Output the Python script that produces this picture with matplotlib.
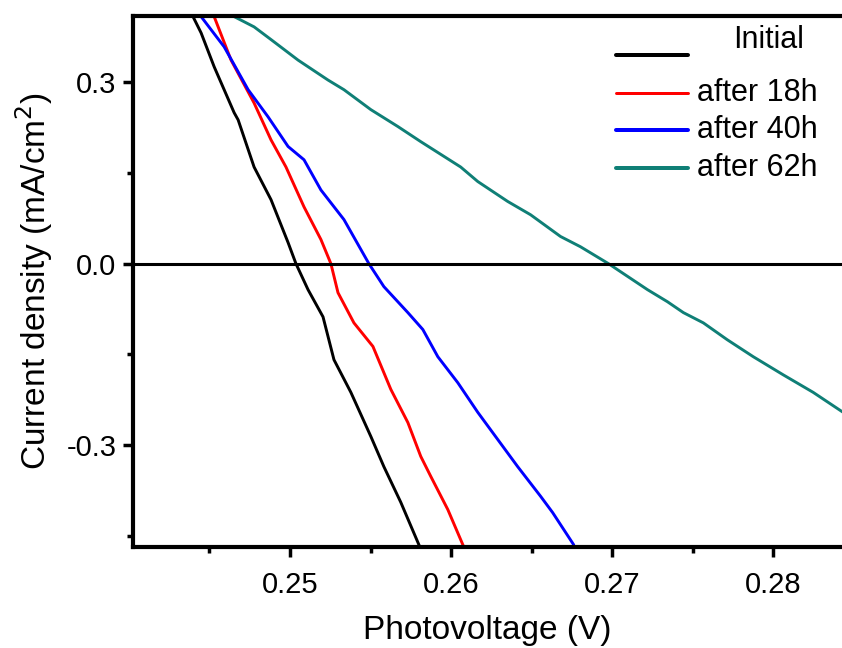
"""J-V curves near open circuit: initial cell and after 18, 40 and 62 h."""
import matplotlib

matplotlib.use("Agg")
import matplotlib.pyplot as plt
from matplotlib.lines import Line2D
from matplotlib.ticker import FormatStrFormatter, MultipleLocator

plt.rcParams["font.family"] = ["Liberation Sans", "DejaVu Sans"]
plt.rcParams["axes.unicode_minus"] = False

# photovoltage (V) / current density (mA/cm2)
initial_v = [0.24392, 0.24448, 0.24529, 0.24653, 0.24678, 0.24777, 0.24882, 0.24988,
             0.25037, 0.25112, 0.25205, 0.25273, 0.25378, 0.25502, 0.25583, 0.25688,
             0.25800, 0.25812]
initial_j = [0.412, 0.382, 0.326, 0.250, 0.238, 0.160, 0.106, 0.035,
             0.0, -0.043, -0.088, -0.159, -0.213, -0.286, -0.336, -0.395,
             -0.465, -0.473]

h18_v = [0.24529, 0.24634, 0.24777, 0.24882, 0.24975, 0.25087, 0.25192, 0.25254,
         0.25298, 0.25397, 0.25515, 0.25626, 0.25732, 0.25812, 0.25874, 0.25980,
         0.26073, 0.26085]
h18_j = [0.409, 0.337, 0.266, 0.205, 0.160, 0.094, 0.040, 0.0,
         -0.048, -0.098, -0.137, -0.208, -0.263, -0.319, -0.352, -0.407,
         -0.465, -0.473]

h40_v = [0.24448, 0.24591, 0.24740, 0.24864, 0.24988, 0.25087, 0.25192, 0.25335,
         0.25490, 0.25583, 0.25732, 0.25825, 0.25918, 0.26042, 0.26166, 0.26290,
         0.26414, 0.26556, 0.26631, 0.26761, 0.26770]
h40_j = [0.409, 0.359, 0.288, 0.243, 0.194, 0.172, 0.122, 0.073,
         0.0, -0.038, -0.081, -0.109, -0.154, -0.197, -0.246, -0.291,
         -0.336, -0.385, -0.412, -0.465, -0.473]

h62_v = [0.24653, 0.24777, 0.24882, 0.25050, 0.25236, 0.25335, 0.25502, 0.25670,
         0.25812, 0.26060, 0.26166, 0.26352, 0.26494, 0.26680, 0.26804, 0.26978,
         0.27220, 0.27344, 0.27443, 0.27567, 0.27716, 0.27877, 0.28063, 0.28249,
         0.28429, 0.28500]
h62_j = [0.409, 0.392, 0.371, 0.337, 0.304, 0.288, 0.255, 0.227,
         0.202, 0.160, 0.136, 0.103, 0.081, 0.045, 0.028, 0.0,
         -0.043, -0.063, -0.081, -0.098, -0.126, -0.154, -0.184, -0.213,
         -0.245, -0.257]

series = [
    ("Initial", initial_v, initial_j, "#000000"),
    ("after 18h", h18_v, h18_j, "#ff0000"),
    ("after 40h", h40_v, h40_j, "#0000ff"),
    ("after 62h", h62_v, h62_j, "#0f7f76"),
]

W, H = 842, 648
fig = plt.figure(figsize=(W / 100, H / 100), dpi=100)
ax = fig.add_axes([133 / W, (H - 547) / H, 1 - 133 / W, (547 - 16) / H])

for label, v, j, color in series:
    ax.plot(v, j, color=color, lw=2.1, solid_joinstyle="round")
ax.axhline(0, color="black", lw=2.2)

ax.set_xlim(0.24025, 0.28428)
ax.set_ylim(-0.469, 0.41)
ax.xaxis.set_major_locator(MultipleLocator(0.01))
ax.xaxis.set_minor_locator(MultipleLocator(0.005))
ax.yaxis.set_major_locator(MultipleLocator(0.3))
ax.yaxis.set_minor_locator(MultipleLocator(0.15))
ax.xaxis.set_major_formatter(FormatStrFormatter("%.2f"))
ax.yaxis.set_major_formatter(FormatStrFormatter("%.1f"))

for side in ("left", "bottom", "top"):
    ax.spines[side].set_linewidth(3)
ax.spines["right"].set_visible(False)
ax.tick_params(which="major", direction="out", length=7, width=2.5, labelsize=21)
ax.tick_params(axis="x", which="major", pad=10)
ax.tick_params(axis="y", which="major", pad=5)
ax.tick_params(which="minor", direction="out", length=4, width=2.5)
ax.tick_params(top=False, right=False)

ax.set_xlabel("Photovoltage (V)", fontsize=24, labelpad=12)
ax.set_ylabel("Current density (mA/cm$^2$)", fontsize=24, labelpad=8)

# Origin-style legend, drawn by hand in pixel positions
legend_rows = [(55, 40, 733, 4.0), (93, 93, 697, 3.0), (130, 130, 697, 4.0), (168, 168, 697, 4.0)]
for (label, _, _, color), (ly, ty, tx, lw) in zip(series, legend_rows):
    fig.add_artist(Line2D([616 / W, 688 / W], [1 - ly / H, 1 - ly / H],
                          transform=fig.transFigure, color=color, lw=lw * 0.72,
                          solid_capstyle="round"))
    fig.text(tx / W, 1 - ty / H, label, fontsize=22, va="center", ha="left")

fig.savefig("out.png", dpi=100)
